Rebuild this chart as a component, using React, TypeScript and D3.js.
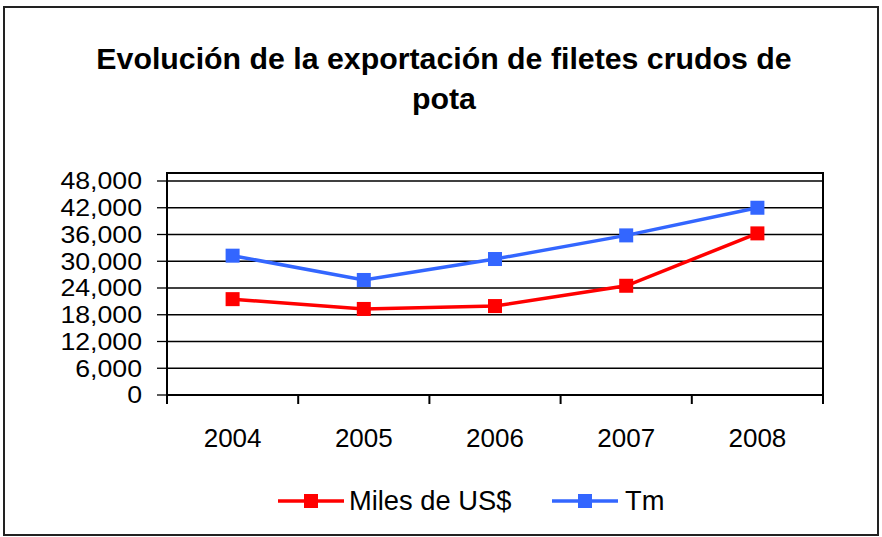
import React from "react";
import * as d3 from "d3";

const years = ["2004", "2005", "2006", "2007", "2008"];
const milesUSD = [21500, 19300, 19950, 24500, 36250];
const tm = [31250, 25800, 30500, 35800, 42000];
const yTicks = [0, 6000, 12000, 18000, 24000, 30000, 36000, 42000, 48000];
const seriesNames = ["Miles de US$", "Tm"];
const seriesColors = ["#FF0000", "#3366FF"];

const W = 882;
const H = 537;
const plotLeft = 167;
const plotRight = 823;
const plotTop = 173;
const plotBottom = 395;

export default function App() {
  const x = d3.scaleBand<string>().domain(years).range([plotLeft, plotRight]);
  const y = d3.scaleLinear().domain([0, 48000]).range([plotBottom, 181]);
  const fmt = d3.format(",");
  const line = d3
    .line<number>()
    .x((_, i) => (x(years[i]) as number) + x.bandwidth() / 2)
    .y((d) => y(d));
  const series = [milesUSD, tm];
  const font = "'Liberation Sans', Arial, sans-serif";
  const legendItems = [
    { lx: 278, tx: 349 },
    { lx: 552, tx: 625 },
  ];
  return (
    <svg
      width={W}
      height={H}
      style={{ position: "absolute", left: 0, top: 0 }}
      fontFamily={font}
    >
      <rect x={0} y={0} width={W} height={H} fill="#fff" />
      <rect x={4} y={7} width={874} height={528} fill="#fff" stroke="#222" strokeWidth={2} />
      <text x={444} y={69} textAnchor="middle" fontSize={30.3} fontWeight="bold" fill="#000">
        Evolución de la exportación de filetes crudos de
      </text>
      <text x={444} y={109} textAnchor="middle" fontSize={30.3} fontWeight="bold" fill="#000">
        pota
      </text>
      {yTicks.map((t) => (
        <g key={t}>
          <line x1={plotLeft} x2={plotRight} y1={y(t)} y2={y(t)} stroke="#000" strokeWidth={1.3} />
          <line x1={157} x2={plotLeft} y1={y(t)} y2={y(t)} stroke="#000" strokeWidth={1.3} />
          <g transform={`translate(142,${y(t)}) scale(1.16,1)`}>
            <text x={0} y={0} dy="0.36em" textAnchor="end" fontSize={23} fill="#000">
              {fmt(t)}
            </text>
          </g>
        </g>
      ))}
      <rect
        x={plotLeft}
        y={plotTop}
        width={plotRight - plotLeft}
        height={plotBottom - plotTop}
        fill="none"
        stroke="#000"
        strokeWidth={2}
      />
      {years.concat(["end"]).map((yr, i) => {
        const px = plotLeft + i * x.bandwidth();
        return <line key={yr} x1={px} x2={px} y1={plotBottom} y2={404} stroke="#000" strokeWidth={2} />;
      })}
      {years.map((yr) => (
        <text
          key={yr}
          x={(x(yr) as number) + x.bandwidth() / 2}
          y={447}
          textAnchor="middle"
          fontSize={26}
          fill="#000"
        >
          {yr}
        </text>
      ))}
      {series.map((s, si) => (
        <g key={si}>
          <path d={line(s) || ""} fill="none" stroke={seriesColors[si]} strokeWidth={3.5} />
          {s.map((v, i) => (
            <rect
              key={i}
              x={(x(years[i]) as number) + x.bandwidth() / 2 - 7}
              y={y(v) - 7}
              width={14}
              height={14}
              fill={seriesColors[si]}
            />
          ))}
        </g>
      ))}
      {legendItems.map((it, i) => (
        <g key={i}>
          <line x1={it.lx} x2={it.lx + 66} y1={501} y2={501} stroke={seriesColors[i]} strokeWidth={3.5} />
          <rect x={it.lx + 33 - 7} y={494} width={14} height={14} fill={seriesColors[i]} />
          <text x={it.tx} y={510} fontSize={27.3} fill="#000">
            {seriesNames[i]}
          </text>
        </g>
      ))}
    </svg>
  );
}
